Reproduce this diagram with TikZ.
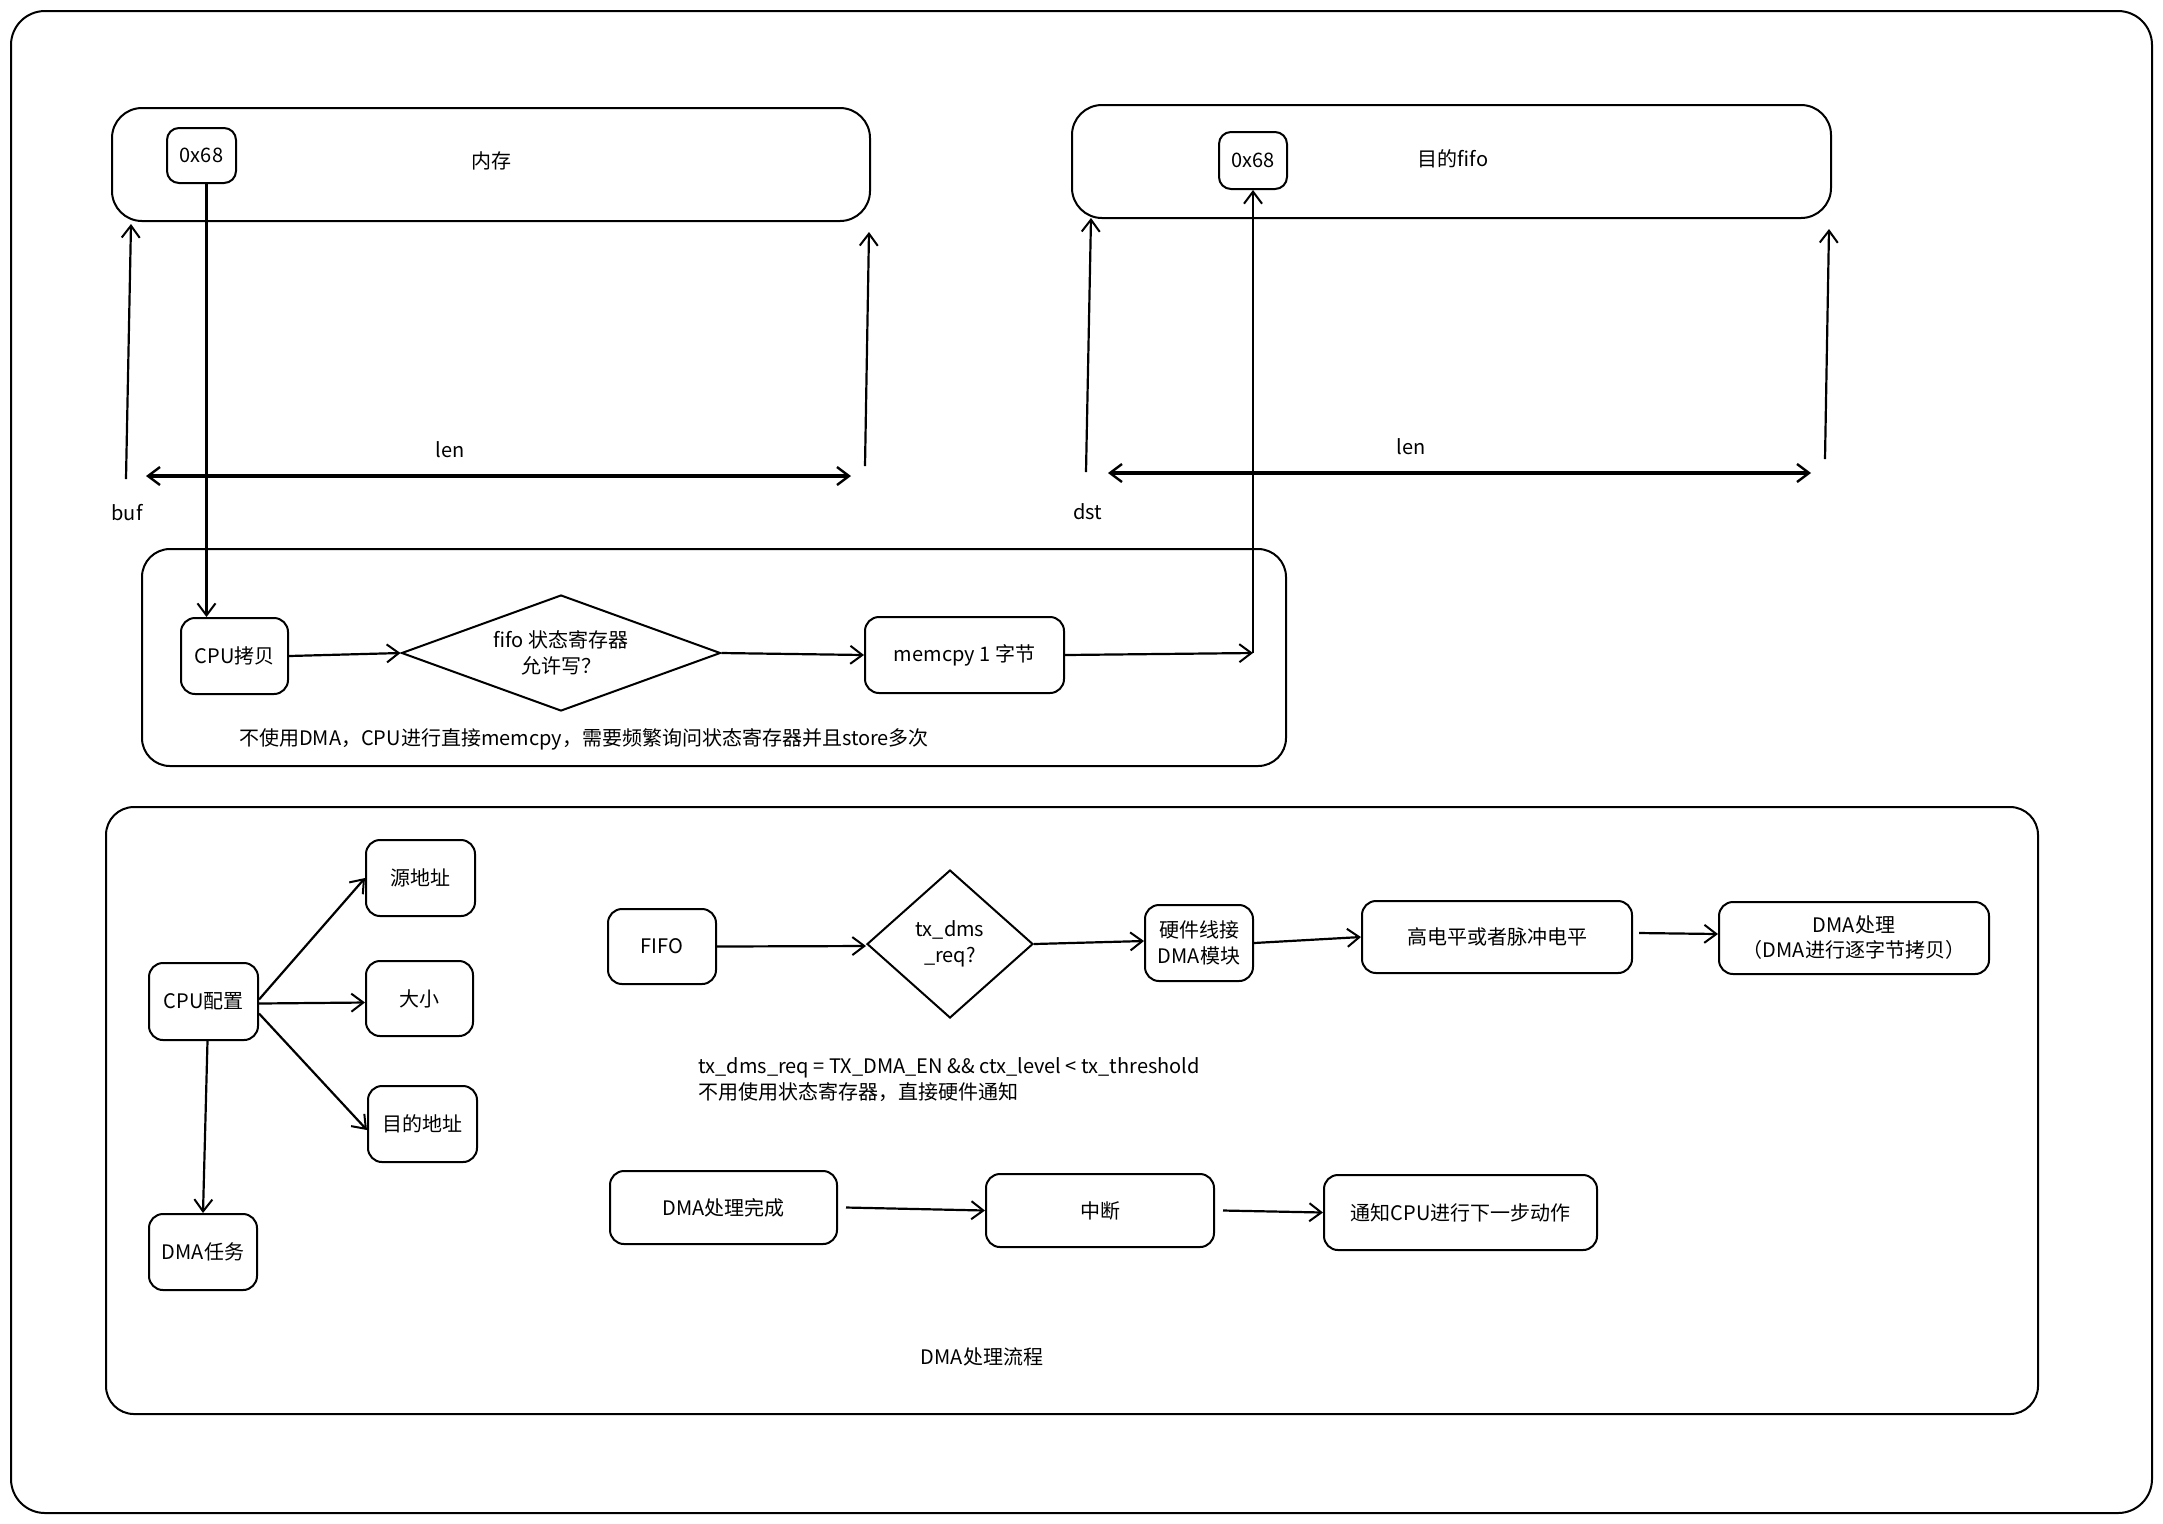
\documentclass[tikz,border=0pt]{standalone}
\usepackage{fontspec}
\setmainfont{Noto Sans CJK SC}
\usetikzlibrary{arrows.meta,shapes.geometric}
\tikzset{
  box/.style={draw, line width=1pt, rounded corners=7pt, inner sep=2pt, align=center, font=\fontsize{10}{13}\selectfont},
  bigbox/.style={draw, line width=1pt, rounded corners=15pt, inner sep=0pt},
  dia/.style={draw, line width=1pt, diamond, inner sep=0pt, align=center, font=\fontsize{10}{13}\selectfont},
  arr/.style={line width=1.1pt, -{Straight Barb[length=6pt,width=9pt,line width=1pt]}},
  darr/.style={line width=1.8pt, {Straight Barb[length=6pt,width=9pt,line width=1.2pt]}-{Straight Barb[length=6pt,width=9pt,line width=1.2pt]}},
  lbl/.style={font=\fontsize{10}{13}\selectfont, inner sep=1pt}
}
\begin{document}
\begin{tikzpicture}[x=0.5pt,y=-0.5pt]
\useasboundingbox[fill=white] (0,0) rectangle (2163,1523);
% outer frame
\draw[line width=1pt, rounded corners=17pt] (11,11) rectangle (2152,1513);

% ---------- top: memory ----------
\node[bigbox, minimum width=379pt, minimum height=56.5pt] (mem) at (491,164.5) {};
\node[lbl] (memtxt) at (491,161) {内存};
\node[box, rounded corners=6pt, minimum width=34.5pt, minimum height=27.5pt] (memaddr) at (201.5,155.5) {0x68};
\coordinate (bufs) at (126,479);
\coordinate (bufe) at (131,224);
\draw[arr] (bufs) -- (bufe);
\node[lbl] (buf) at (127,513) {buf};
\coordinate (memrs) at (865,466);
\coordinate (memre) at (869,232);
\draw[arr] (memrs) -- (memre);
\coordinate (len1a) at (146,476);
\coordinate (len1b) at (851,476);
\draw[darr] (len1a) -- (len1b);
\node[lbl] (len1) at (450,450) {len};

% ---------- top: fifo ----------
\node[bigbox, minimum width=379.5pt, minimum height=56.5pt] (fifo) at (1451.5,161.5) {};
\node[lbl] (fifotxt) at (1453,159) {目的fifo};
\node[box, rounded corners=6pt, minimum width=34pt, minimum height=28.5pt] (fifoaddr) at (1253,160.5) {0x68};
\coordinate (dsts) at (1086,472);
\coordinate (dste) at (1091,218);
\draw[arr] (dsts) -- (dste);
\node[lbl] (dst) at (1088,512) {dst};
\coordinate (fifors) at (1825,459);
\coordinate (fifore) at (1829,229);
\draw[arr] (fifors) -- (fifore);
\coordinate (len2a) at (1108,473);
\coordinate (len2b) at (1811,473);
\draw[darr] (len2a) -- (len2b);
\node[lbl] (len2) at (1411,447) {len};

% ---------- middle: CPU copy ----------
\node[bigbox, rounded corners=14pt, minimum width=572pt, minimum height=108.5pt] (mid) at (714,657.5) {};
\node[box, minimum width=53.5pt, minimum height=38pt] (cpucopy) at (234.5,656) {CPU拷贝};
\node[dia, shape aspect=2.75, minimum width=159.5pt, minimum height=58pt] (d1) at (561,653) {fifo 状态寄存器\\允许写？};
\node[box, minimum width=99.5pt, minimum height=38pt] (memcpy) at (964.5,655) {memcpy 1 字节};
\coordinate (mj) at (1253,653);
\draw[arr] ([xshift=2.5pt]memaddr.south) -- ([xshift=2.5pt]memaddr.south |- cpucopy.north);
\draw[arr] (cpucopy.east) -- (d1.west);
\draw[arr] (d1.east) -- (memcpy.west);
\draw[arr] (memcpy.east) -- (mj);
\draw[arr] (mj) -- (fifoaddr.south);
\node[lbl] (cap1) at (584,739) {不使用DMA，CPU进行直接memcpy，需要频繁询问状态寄存器并且store多次};

% ---------- bottom: DMA flow ----------
\node[bigbox, rounded corners=14pt, minimum width=966pt, minimum height=303.5pt] (bot) at (1072,1110.5) {};
\node[box, minimum width=54.5pt, minimum height=38.5pt] (cpucfg) at (203.5,1001.5) {CPU配置};
\node[box, minimum width=54.5pt, minimum height=38pt] (src) at (420.5,878) {源地址};
\node[box, minimum width=53.5pt, minimum height=37.5pt] (size) at (419.5,998.5) {大小};
\node[box, minimum width=54.5pt, minimum height=38pt] (dstaddr) at (422.5,1124) {目的地址};
\node[box, minimum width=54pt, minimum height=38pt] (dmatask) at (203,1252) {DMA任务};
\draw[arr] ([yshift=1pt]cpucfg.east) -- (src.west);
\draw[arr] ([yshift=-1pt]cpucfg.east) -- ([yshift=-2pt]size.west);
\draw[arr] ([yshift=-6pt]cpucfg.east) -- ([yshift=-3pt]dstaddr.west);
\draw[arr] ([xshift=2pt]cpucfg.south) -- (dmatask.north);

\node[box, minimum width=54pt, minimum height=37.5pt] (fifon) at (662,946.5) {FIFO};
\node[dia, minimum width=83pt, minimum height=74pt] (d2) at (950,944) {tx\_dms\\\_req?};
\node[box, minimum width=54pt, minimum height=38pt, inner sep=1pt] (hw) at (1199,943) {硬件线接\\DMA模块};
\node[box, minimum width=135pt, minimum height=36pt] (level) at (1497,937) {高电平或者脉冲电平};
\node[box, minimum width=135pt, minimum height=36pt, font=\fontsize{10}{12.5}\selectfont] (dmaproc) at (1854,938) {DMA处理\\（DMA进行逐字节拷贝）};
\draw[arr] (fifon.east) -- ([yshift=-1pt]d2.west);
\draw[arr] (d2.east) -- ([yshift=1pt]hw.west);
\draw[arr] (hw.east) -- (level.west);
\draw[arr] ([xshift=3pt,yshift=2pt]level.east) -- ([yshift=2pt]dmaproc.west);

\node[lbl, anchor=west, align=left] (note) at (696,1080) {tx\_dms\_req = TX\_DMA\_EN \&\& ctx\_level < tx\_threshold\\不用使用状态寄存器，直接硬件通知};

\node[box, minimum width=113.5pt, minimum height=36.5pt] (done) at (723.5,1207.5) {DMA处理完成};
\node[box, minimum width=114pt, minimum height=36.5pt] (irq) at (1100,1210.5) {中断};
\node[box, minimum width=136.5pt, minimum height=37.5pt] (notify) at (1460.5,1212.5) {通知CPU进行下一步动作};
\draw[arr] ([xshift=4pt]done.east) -- (irq.west);
\draw[arr] ([xshift=4pt]irq.east) -- (notify.west);

\node[lbl] (title) at (982,1357) {DMA处理流程};
\end{tikzpicture}
\end{document}
